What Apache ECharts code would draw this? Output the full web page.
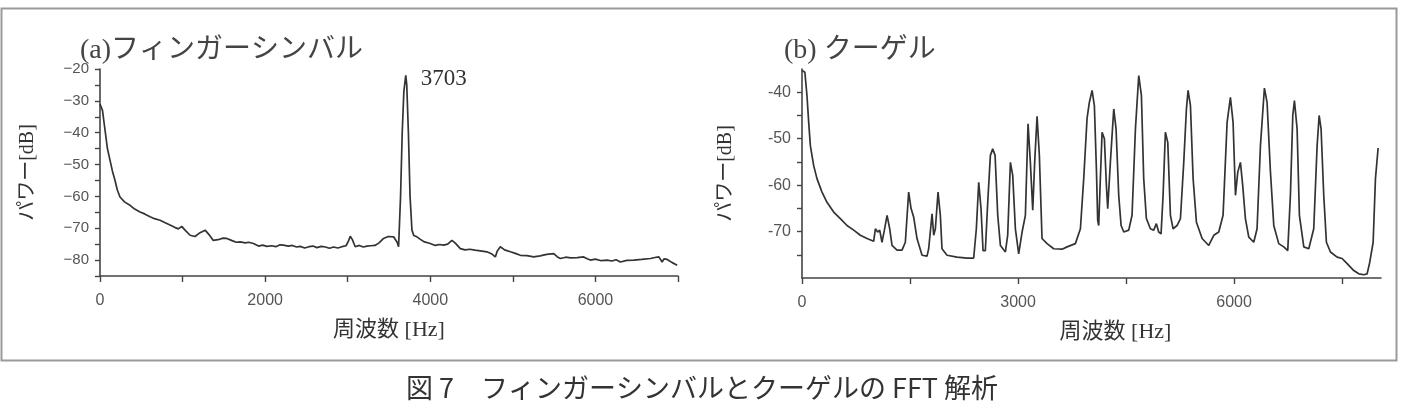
<!DOCTYPE html>
<html>
<head>
<meta charset="utf-8">
<title>FFT 解析</title>
<script src="https://cdn.jsdelivr.net/npm/echarts@6/dist/echarts.min.js"></script>
<style>
  html, body { margin: 0; padding: 0; background: #fff; }
  #chart { width: 1404px; height: 417px; }
</style>
</head>
<body>
<div id="chart"></div>
<script>
// (a) finger cymbal spectrum
const freqA = [0, 30, 60, 90, 121, 150, 182, 210, 242, 300, 364, 420, 485, 540, 606, 660, 727, 790, 848, 910,
  950, 990, 1030, 1091, 1150, 1212, 1273, 1320, 1370, 1430, 1490, 1535, 1600, 1650, 1697, 1760, 1800, 1858, 1920, 1970,
  2020, 2080, 2130, 2180, 2222, 2280, 2330, 2380, 2424, 2480, 2530, 2580, 2626, 2680, 2730, 2780, 2828, 2880, 2930, 2980,
  3010, 3030, 3055, 3091, 3140, 3190, 3232, 3280, 3330, 3380, 3434, 3490, 3556, 3600, 3616, 3640, 3660, 3680, 3703, 3715,
  3735, 3755, 3778, 3800, 3838, 3880, 3930, 4000, 4060, 4110, 4161, 4210, 4262, 4300, 4364, 4420, 4480, 4540, 4606, 4686,
  4740, 4788, 4810, 4848, 4900, 4970, 5030, 5091, 5170, 5253, 5330, 5410, 5495, 5540, 5576, 5640, 5700, 5778, 5858, 5900,
  5939, 6000, 6070, 6141, 6200, 6250, 6303, 6380, 6465, 6560, 6667, 6720, 6768, 6790, 6808, 6830, 6869, 6930, 6990]
const powerA = [-31, -33, -39, -45, -48.6, -52, -55, -58, -60.2, -61.8, -62.8, -64, -64.9, -65.5, -66.4, -67, -67.5, -68.3, -69, -69.8,
  -70.2, -69.4, -70.6, -72.2, -72.6, -71.4, -70.6, -72, -73.8, -73.6, -73.1, -73.2, -73.9, -74.4, -74.3, -74.6, -74.4, -74.8, -75.6, -75.3,
  -75.7, -75.5, -75.8, -75.2, -75.3, -75.6, -75.4, -75.9, -75.7, -76.2, -75.8, -75.6, -76.1, -75.7, -75.9, -76.3, -75.9, -76.2, -75.8, -75.5,
  -74, -72.5, -73.5, -75.8, -75.4, -75.9, -75.6, -75.5, -75.4, -74.6, -73.2, -72.6, -72.7, -74.5, -75.8, -60, -40, -27, -22, -25,
  -40, -60, -70.6, -72.3, -72.7, -73.5, -74.3, -74.8, -75.4, -75.1, -75.3, -75, -73.8, -74.6, -76.4, -76.8, -76.6, -76.9, -77.1, -77.4,
  -78, -79, -77.2, -75.8, -76.8, -77.4, -77.9, -78.5, -78.6, -79, -78.7, -78.2, -78, -79, -79.5, -79.1, -79.3, -79.2, -79, -79.6,
  -80, -79.7, -80.2, -80, -80.3, -79.9, -80.6, -80.1, -80, -79.8, -79.5, -79.2, -79, -79.6, -80.6, -79.6, -79.8, -80.8, -81.6]
const peakA = [3703, -22]

// (b) kugel spectrum
const freqB = [0, 40, 69, 93, 116, 162, 208, 278, 347, 440, 532, 625, 718, 810, 903, 995, 1019, 1051, 1079, 1111,
  1144, 1181, 1218, 1250, 1319, 1389, 1435, 1481, 1514, 1551, 1597, 1667, 1736, 1759, 1806, 1829, 1852, 1889, 1921, 1944,
  2014, 2153, 2292, 2384, 2421, 2454, 2486, 2514, 2546, 2579, 2616, 2648, 2681, 2718, 2755, 2824, 2856, 2894, 2926, 2963,
  3009, 3056, 3102, 3139, 3171, 3204, 3231, 3264, 3296, 3333, 3403, 3495, 3611, 3681, 3796, 3866, 3912, 3958, 3990, 4028,
  4060, 4088, 4106, 4120, 4143, 4167, 4199, 4227, 4245, 4282, 4329, 4361, 4398, 4431, 4468, 4537, 4583, 4630, 4676, 4713,
  4745, 4782, 4838, 4884, 4921, 4953, 4986, 5014, 5046, 5079, 5116, 5153, 5208, 5255, 5301, 5338, 5361, 5394, 5431, 5477,
  5556, 5648, 5718, 5787, 5847, 5903, 5949, 5986, 6019, 6051, 6088, 6120, 6157, 6204, 6273, 6319, 6366, 6421, 6458, 6505,
  6551, 6620, 6690, 6745, 6782, 6815, 6838, 6875, 6907, 6968, 7037, 7106, 7153, 7181, 7208, 7245, 7282, 7338, 7431, 7500,
  7570, 7662, 7732, 7801, 7847, 7884, 7931, 7963, 8000]
const powerB = [-35.3, -35.7, -40.7, -46.5, -51.5, -55.8, -58.6, -61.5, -63.7, -65.8, -67.2, -68.7, -69.7, -70.8, -71.5, -72.1, -69.4, -70.1, -69.7, -72.3,
  -69.7, -66.5, -69.4, -73, -74, -74, -72.3, -61.5, -65, -66.9, -71.5, -75.1, -75.3, -73.7, -66.2, -70.8, -69.4, -61.5, -66.5, -73.7,
  -75.1, -75.5, -75.7, -75.7, -69.4, -59.4, -65.1, -74.1, -74.1, -63.7, -53.6, -52.2, -53.6, -66.5, -73, -74.4, -70.8, -55.1, -57.9, -69.4,
  -74.8, -70.1, -66.5, -46.8, -55.1, -65.4, -55.1, -45.2, -53.6, -71.5, -72.6, -73.7, -73.8, -73.3, -72.6, -69.4, -58.6, -45.7, -42.2, -39.6,
  -42.9, -56.5, -67.6, -68.7, -58.6, -48.6, -50, -60.1, -65.1, -55.1, -43.6, -47.9, -62.2, -68.7, -70.1, -69.7, -66.5, -47.9, -36.4, -40.7,
  -58.6, -67.2, -69.4, -69.7, -68.3, -70.1, -70.5, -62.2, -48.6, -50.8, -66.5, -69.4, -68.7, -67.2, -55.1, -43.6, -39.6, -42.9, -58.6, -68,
  -71.5, -73, -70.8, -70.1, -66.5, -46.5, -41.1, -46.5, -62.2, -57.2, -55.1, -60.1, -67.2, -71.2, -72.3, -69.4, -51.5, -39.1, -42.2, -57.2,
  -68.7, -72.6, -73.3, -74.1, -62.2, -45, -41.8, -47.9, -66.5, -73.3, -73.7, -69.4, -51.5, -45, -47.9, -62.2, -72.3, -74.4, -75.5, -75.8,
  -76.9, -78.4, -79.1, -79.3, -79.1, -76.6, -72.3, -58.6, -52]

// ticks and labels
const xTicksA = [0, 1000, 2000, 3000, 4000, 5000, 6000, 7000]
const xLabelsA = [0, 2000, 4000, 6000]
const yTicksA = [-85, -80, -75, -70, -65, -60, -55, -50, -45, -40, -35, -30, -25, -20]
const yLabelsA = [-80, -70, -60, -50, -40, -30, -20]
const xTicksB = [0, 1500, 3000, 4500, 6000, 7500]
const xLabelsB = [0, 3000, 6000]
const yTicksB = [-75, -70, -65, -60, -55, -50, -45, -40]
const yLabelsB = [-70, -60, -50, -40]

const ink = '#333'
const labelFont = { fontFamily: 'Liberation Sans', fontSize: 16, color: '#555' }
const nameFont = { fontFamily: 'Liberation Serif, Noto Sans CJK JP', fontSize: 22, color: ink }

function xAxisOf (grid, max, ticks, labels, shift) {
  return {
    type: 'value',
    gridIndex: grid,
    min: 0,
    max: max,
    name: '周波数 [Hz]',
    nameLocation: 'middle',
    nameGap: 43,
    nameTextStyle: Object.assign({ padding: [0, 0, 0, shift] }, nameFont),
    splitLine: { show: false },
    axisLine: { lineStyle: { color: '#444', width: 1.6 } },
    axisTick: { customValues: ticks, length: 6, lineStyle: { color: '#444', width: 1.4 } },
    axisLabel: Object.assign({ customValues: labels, margin: 17, formatter: v => String(v) }, labelFont)
  }
}

function yAxisOf (grid, min, max, ticks, labels, gap, minus, size) {
  return {
    type: 'value',
    gridIndex: grid,
    min: min,
    max: max,
    name: 'パワー[dB]',
    nameLocation: 'middle',
    nameRotate: 90,
    nameGap: gap,
    nameTextStyle: Object.assign({}, nameFont, { fontSize: 20 }),
    splitLine: { show: false },
    axisLine: { show: true, lineStyle: { color: '#444', width: 1.6 } },
    axisTick: { show: true, customValues: ticks, length: 5, lineStyle: { color: '#444', width: 1.4 } },
    axisLabel: Object.assign({
      customValues: labels,
      margin: 11,
      formatter: v => minus ? String(v).replace('-', '\u2212') : String(v)
    }, labelFont, { fontSize: size })
  }
}

const chart = echarts.init(document.getElementById('chart'), null, { renderer: 'canvas' })

const option = {
  backgroundColor: '#fff',
  animation: false,
  grid: [
    { left: 100, top: 69, width: 578, height: 207, outerBoundsMode: 'none' },
    { left: 802, top: 69, width: 579, height: 209, outerBoundsMode: 'none' }
  ],
  xAxis: [
    xAxisOf(0, 7000, xTicksA, xLabelsA, 0),
    xAxisOf(1, 8040, xTicksB, xLabelsB, 48)
  ],
  yAxis: [
    yAxisOf(0, -85, -20, yTicksA, yLabelsA, 62, true, 15),
    yAxisOf(1, -80, -35, yTicksB, yLabelsB, 66, false, 16)
  ],
  series: [
    {
      type: 'line',
      xAxisIndex: 0,
      yAxisIndex: 0,
      data: freqA.map((f, i) => [f, powerA[i]]),
      showSymbol: false,
      lineStyle: { color: ink, width: 1.7 },
      markPoint: {
        symbol: 'circle',
        symbolSize: 0,
        data: [{ coord: peakA, value: peakA[0] }],
        label: {
          show: true,
          position: 'right',
          offset: [10, 4],
          formatter: '3703',
          fontFamily: 'Liberation Serif',
          fontSize: 23,
          color: ink
        }
      }
    },
    {
      type: 'line',
      xAxisIndex: 1,
      yAxisIndex: 1,
      data: freqB.map((f, i) => [f, powerB[i]]),
      showSymbol: false,
      lineStyle: { color: ink, width: 1.7 }
    }
  ],
  graphic: [
    {
      type: 'rect',
      shape: { x: 1.5, y: 8.5, width: 1395, height: 352 },
      style: { fill: 'none', stroke: '#9a9a9a', lineWidth: 2 }
    },
    {
      type: 'text',
      left: 80,
      top: 37,
      style: { text: '(a)フィンガーシンバル', font: '28px "Liberation Serif", "Noto Sans CJK JP"', fill: '#444' }
    },
    {
      type: 'text',
      left: 784,
      top: 37,
      style: { text: '(b) クーゲル', font: '28px "Liberation Serif", "Noto Sans CJK JP"', fill: '#444' }
    },
    {
      type: 'text',
      left: 'center',
      top: 374,
      style: { text: '図 7　フィンガーシンバルとクーゲルの FFT 解析', font: '27px "Noto Sans CJK JP"', fill: ink }
    }
  ]
}

chart.setOption(option)
</script>
</body>
</html>
